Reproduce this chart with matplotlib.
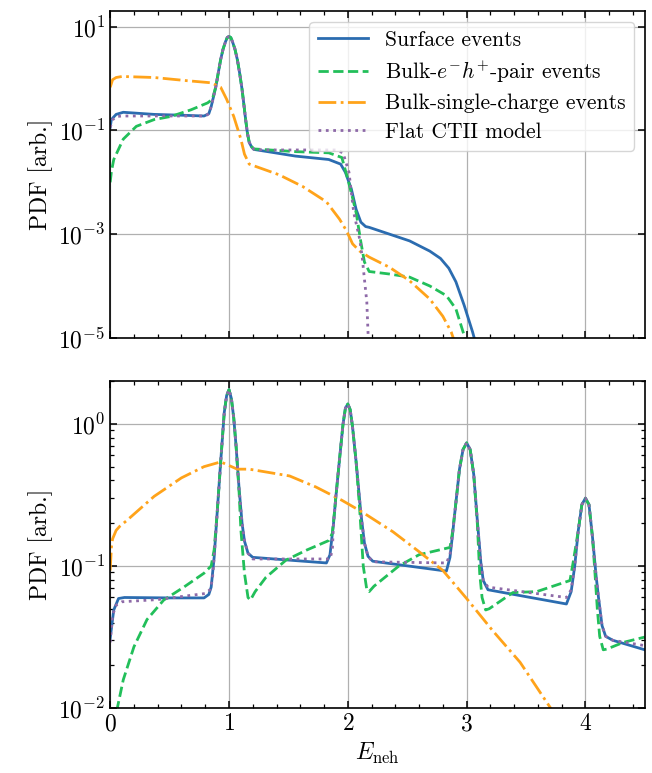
import numpy as np
import matplotlib
matplotlib.use("Agg")
import matplotlib.pyplot as plt
from matplotlib.ticker import FixedLocator, NullLocator, MultipleLocator, LogLocator

plt.rcParams['font.family'] = 'serif'
plt.rcParams['font.serif'] = ['cmr10']
plt.rcParams['mathtext.fontset'] = 'cm'
plt.rcParams['axes.formatter.use_mathtext'] = True

labels = ["Surface events", r"Bulk-$e^{-}h^{+}$-pair events",
          "Bulk-single-charge events", "Flat CTII model"]
colors = ['#2b6cb0', '#22bf5a', '#ffa31a', '#8e6aa8']
styles = ['-', '--', '-.', ':']

# ---- top panel ----
top_surf_x = [0, 0.01, 0.05, 0.11, 0.37, 0.65, 0.79, 0.83, 0.85, 0.87, 0.89, 0.91, 0.93, 0.95, 0.97, 0.985,
              1.0, 1.015, 1.03, 1.05, 1.07, 1.09, 1.11, 1.125, 1.14, 1.155, 1.17, 1.19, 1.21, 1.56, 1.84,
              1.94, 1.98, 2.03, 2.07, 2.11, 2.15, 2.18, 2.35, 2.52, 2.69, 2.78, 2.85, 2.91, 2.98, 3.05, 3.10]
top_surf_y = [0.115, 0.162, 0.204, 0.224, 0.204, 0.195, 0.19, 0.21, 0.288, 0.45, 0.71, 1.3, 2.34, 3.7, 5.1, 6.2,
              6.5, 6.2, 5.1, 3.7, 2.34, 1.26, 0.62, 0.32, 0.162, 0.089, 0.059, 0.048, 0.043, 0.032, 0.0275,
              0.0224, 0.0155, 0.0074, 0.003, 0.0017, 0.0014, 0.00135, 0.001, 0.00074, 0.00047, 0.00034,
              0.00022, 0.00012, 4.2e-5, 1.3e-5, 5e-6]

top_pair_x = [0, 0.01, 0.03, 0.11, 0.22, 0.37, 0.51, 0.68, 0.82, 0.86, 0.89, 0.91, 0.93, 0.95, 0.97, 0.985,
              1.0, 1.015, 1.03, 1.05, 1.07, 1.09, 1.11, 1.125, 1.14, 1.155, 1.17, 1.19, 1.21, 1.56, 1.84,
              1.95, 2.0, 2.04, 2.07, 2.11, 2.14, 2.18, 2.35, 2.52, 2.69, 2.83, 2.91, 2.98, 3.0]
top_pair_y = [0.01, 0.016, 0.0275, 0.068, 0.12, 0.162, 0.186, 0.25, 0.34, 0.40, 0.71, 1.3, 2.34, 3.7, 5.1, 6.2,
              6.5, 6.2, 5.1, 3.7, 2.34, 1.26, 0.62, 0.32, 0.162, 0.089, 0.06, 0.049, 0.044, 0.039, 0.037,
              0.030, 0.0115, 0.005, 0.0026, 0.0007, 0.00029, 0.00019, 0.00017, 0.000148, 1e-4, 6.5e-5,
              3.6e-5, 1.1e-5, 6e-6]

top_single_x = [0, 0.02, 0.05, 0.10, 0.37, 0.65, 0.85, 0.93, 0.98, 1.04, 1.10, 1.13, 1.17, 1.42, 1.62,
                1.82, 1.93, 1.99, 2.04, 2.10, 2.18, 2.35, 2.52, 2.69, 2.80, 2.87, 2.92]
top_single_y = [0.68, 0.95, 1.05, 1.1, 1.05, 0.91, 0.83, 0.68, 0.40, 0.186, 0.068, 0.035, 0.0224, 0.014,
                0.0083, 0.0042, 0.00195, 0.00115, 0.00065, 0.00047, 0.00036, 0.00023, 0.000126, 5.6e-5,
                2.6e-5, 1.3e-5, 6e-6]

top_flat_x = [0, 0.02, 0.05, 0.10, 0.5, 0.80, 0.83, 0.85, 0.87, 0.89, 0.91, 0.93, 0.95, 0.97, 0.985,
              1.0, 1.015, 1.03, 1.05, 1.07, 1.09, 1.11, 1.125, 1.14, 1.155, 1.17, 1.19, 1.21, 1.3, 1.9,
              1.96, 2.01, 2.05, 2.10, 2.12, 2.14, 2.16, 2.17, 2.18]
top_flat_y = [0.115, 0.16, 0.185, 0.19, 0.19, 0.19, 0.21, 0.288, 0.45, 0.71, 1.3, 2.34, 3.7, 5.1, 6.2,
              6.5, 6.2, 5.1, 3.7, 2.34, 1.26, 0.62, 0.32, 0.162, 0.089, 0.06, 0.048, 0.043, 0.042, 0.042,
              0.037, 0.0155, 0.0026, 0.0008, 0.00038, 0.000135, 4.9e-5, 1.3e-5, 4e-6]

# ---- bottom panel ----
bot_surf_x = [0, 0.03, 0.07, 0.12, 0.5, 0.79, 0.83, 0.85, 0.875, 0.90, 0.93, 0.96, 0.98, 1.0, 1.02, 1.04,
              1.06, 1.085, 1.11, 1.13, 1.16, 1.20, 1.82, 1.85, 1.88, 1.90, 1.93, 1.96, 1.98, 2.0, 2.02,
              2.04, 2.07, 2.11, 2.14, 2.17, 2.21, 2.83, 2.86, 2.88, 2.90, 2.94, 2.97, 3.0, 3.03, 3.06,
              3.09, 3.12, 3.14, 3.18, 3.84, 3.88, 3.91, 3.94, 3.97, 4.0, 4.03, 4.06, 4.09, 4.11, 4.14,
              4.17, 4.23, 4.5]
bot_surf_y = [0.031, 0.049, 0.059, 0.060, 0.0596, 0.0596, 0.063, 0.071, 0.115, 0.234, 0.54, 1.2, 1.58, 1.74,
              1.51, 1.1, 0.69, 0.35, 0.20, 0.15, 0.123, 0.115, 0.105, 0.12, 0.2, 0.31, 0.56, 1.0, 1.29,
              1.38, 1.26, 0.95, 0.54, 0.234, 0.145, 0.117, 0.108, 0.092, 0.115, 0.162, 0.234, 0.48, 0.66,
              0.735, 0.66, 0.44, 0.21, 0.105, 0.079, 0.068, 0.054, 0.066, 0.1, 0.178, 0.27, 0.30, 0.27,
              0.158, 0.085, 0.060, 0.038, 0.032, 0.030, 0.0257]

bot_pair_x = [0.055, 0.06, 0.11, 0.20, 0.31, 0.45, 0.62, 0.79, 0.85, 0.875, 0.90, 0.93, 0.96, 0.98, 1.0,
              1.02, 1.04, 1.06, 1.085, 1.10, 1.13, 1.16, 1.18, 1.22, 1.31, 1.48, 1.65, 1.84, 1.87, 1.89,
              1.90, 1.93, 1.96, 1.98, 2.0, 2.02, 2.04, 2.07, 2.10, 2.13, 2.16, 2.18, 2.22, 2.43, 2.60,
              2.86, 2.88, 2.90, 2.94, 2.97, 3.0, 3.03, 3.06, 3.09, 3.11, 3.13, 3.16, 3.19, 3.39, 3.59,
              3.87, 3.90, 3.94, 3.97, 4.0, 4.03, 4.06, 4.08, 4.10, 4.12, 4.15, 4.18, 4.32, 4.5]
bot_pair_y = [0.0095, 0.01, 0.0158, 0.027, 0.042, 0.0575, 0.071, 0.089, 0.10, 0.13, 0.234, 0.54, 1.2, 1.58,
              1.74, 1.51, 1.1, 0.69, 0.33, 0.18, 0.089, 0.060, 0.0575, 0.066, 0.083, 0.11, 0.129, 0.151,
              0.17, 0.25, 0.31, 0.56, 1.0, 1.29, 1.38, 1.26, 0.95, 0.54, 0.25, 0.10, 0.068, 0.066, 0.072,
              0.10, 0.12, 0.135, 0.17, 0.234, 0.48, 0.66, 0.735, 0.66, 0.44, 0.20, 0.089, 0.060, 0.049,
              0.050, 0.065, 0.066, 0.079, 0.11, 0.178, 0.27, 0.30, 0.27, 0.158, 0.09, 0.05, 0.032, 0.0257,
              0.026, 0.029, 0.0316]

bot_single_x = [0, 0.01, 0.02, 0.05, 0.08, 0.14, 0.37, 0.60, 0.79, 0.93, 1.07, 1.17, 1.51, 1.73, 1.95,
                2.12, 2.38, 2.60, 2.80, 3.0, 3.22, 3.45, 3.70, 3.75]
bot_single_y = [0.093, 0.135, 0.155, 0.178, 0.19, 0.209, 0.309, 0.417, 0.50, 0.54, 0.48, 0.48, 0.43, 0.36,
                0.29, 0.24, 0.174, 0.126, 0.093, 0.059, 0.035, 0.021, 0.0102, 0.0088]

bot_flat_x = [0, 0.02, 0.05, 0.1, 0.4, 0.8, 0.84, 0.86, 0.875, 0.90, 0.93, 0.96, 0.98, 1.0, 1.02, 1.04,
              1.06, 1.085, 1.11, 1.13, 1.16, 1.20, 1.85, 1.87, 1.88, 1.90, 1.93, 1.96, 1.98, 2.0, 2.02,
              2.04, 2.07, 2.11, 2.14, 2.17, 2.21, 2.83, 2.86, 2.88, 2.90, 2.94, 2.97, 3.0, 3.03, 3.06,
              3.09, 3.12, 3.14, 3.18, 3.84, 3.88, 3.91, 3.94, 3.97, 4.0, 4.03, 4.06, 4.09, 4.11, 4.14,
              4.17, 4.23, 4.5]
bot_flat_y = [0.029, 0.045, 0.053, 0.056, 0.058, 0.064, 0.068, 0.08, 0.115, 0.234, 0.54, 1.2, 1.58, 1.74,
              1.51, 1.1, 0.69, 0.35, 0.20, 0.15, 0.123, 0.112, 0.112, 0.13, 0.2, 0.31, 0.56, 1.0, 1.29,
              1.38, 1.26, 0.95, 0.54, 0.234, 0.145, 0.117, 0.107, 0.105, 0.12, 0.162, 0.234, 0.48, 0.66,
              0.735, 0.66, 0.44, 0.21, 0.105, 0.079, 0.071, 0.06, 0.068, 0.1, 0.178, 0.27, 0.30, 0.27,
              0.158, 0.085, 0.060, 0.038, 0.032, 0.030, 0.0275]

top_data = [(top_surf_x, top_surf_y), (top_pair_x, top_pair_y),
            (top_single_x, top_single_y), (top_flat_x, top_flat_y)]
bot_data = [(bot_surf_x, bot_surf_y), (bot_pair_x, bot_pair_y),
            (bot_single_x, bot_single_y), (bot_flat_x, bot_flat_y)]

fig = plt.figure(figsize=(6.52, 7.73), dpi=100)
ax1 = fig.add_axes([0.169, 0.563, 0.820, 0.423])
ax2 = fig.add_axes([0.169, 0.084, 0.820, 0.423])

for ax, data in [(ax1, top_data), (ax2, bot_data)]:
    for (x, y), c, ls, lab in zip(data, colors, styles, labels):
        ax.plot(x, y, color=c, ls=ls, lw=2.0, label=lab)
    ax.set_yscale('log')
    ax.set_xlim(0, 4.5)
    ax.xaxis.set_major_locator(MultipleLocator(1))
    ax.xaxis.set_minor_locator(MultipleLocator(0.2))
    ax.grid(True, which='major', color='#b0b0b0', lw=0.9)
    ax.tick_params(which='both', direction='in', top=True, right=True, labelsize=17)
    ax.tick_params(which='major', length=5, width=1.1)
    ax.tick_params(which='minor', length=3, width=0.9)
    ax.set_ylabel('PDF [arb.]', fontsize=17)
    for s in ax.spines.values():
        s.set_linewidth(1.2)

ax1.set_ylim(1e-5, 20.3)
ax1.yaxis.set_major_locator(FixedLocator([1e-5, 1e-3, 1e-1, 1e1]))
ax1.yaxis.set_minor_locator(NullLocator())
ax1.tick_params(labelbottom=False)

ax2.set_ylim(1e-2, 2.0)
ax2.yaxis.set_major_locator(LogLocator(base=10))
ax2.yaxis.set_minor_locator(LogLocator(base=10, subs=np.arange(2, 10)))
ax2.set_xlabel(r'$E_\mathrm{neh}$', fontsize=17)

leg = ax1.legend(loc='upper right', fontsize=15.5, handlelength=2.3, framealpha=0.8,
                 edgecolor='#cccccc', borderpad=0.4, labelspacing=0.42, handletextpad=0.8,
                 borderaxespad=0.5)

fig.savefig('out.png', dpi=100)
